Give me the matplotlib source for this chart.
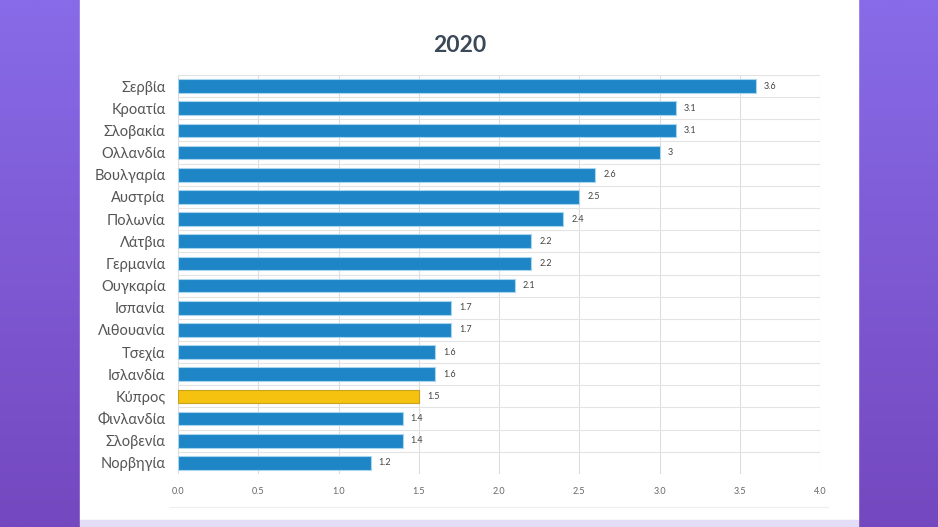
import numpy as np
import matplotlib.pyplot as plt
from matplotlib.patches import Rectangle

plt.rcParams['font.family'] = ['Lato', 'Noto Sans', 'DejaVu Sans']

# Data
countries = ['Σερβία', 'Κροατία', 'Σλοβακία', 'Ολλανδία', 'Βουλγαρία', 'Αυστρία',
             'Πολωνία', 'Λάτβια', 'Γερμανία', 'Ουγκαρία', 'Ισπανία', 'Λιθουανία',
             'Τσεχία', 'Ισλανδία', 'Κύπρος', 'Φινλανδία', 'Σλοβενία', 'Νορβηγία']
values = [3.6, 3.1, 3.1, 3.0, 2.6, 2.5, 2.4, 2.2, 2.2, 2.1, 1.7, 1.7, 1.6, 1.6, 1.5, 1.4, 1.4, 1.2]
value_labels = ['3.6', '3.1', '3.1', '3', '2.6', '2.5', '2.4', '2.2', '2.2', '2.1',
                '1.7', '1.7', '1.6', '1.6', '1.5', '1.4', '1.4', '1.2']
highlight = 'Κύπρος'
xticks = [0.0, 0.5, 1.0, 1.5, 2.0, 2.5, 3.0, 3.5, 4.0]

W, H = 938, 527
fig = plt.figure(figsize=(W / 100, H / 100), dpi=100)

# purple gradient background
bg = fig.add_axes([0, 0, 1, 1])
top = np.array([0x88, 0x6b, 0xe8]) / 255
bot = np.array([0x74, 0x48, 0xbf]) / 255
t = np.linspace(0, 1, 256)[:, None]
grad = (top * (1 - t) + bot * t)[:, None, :]
bg.imshow(grad, aspect='auto', extent=[0, W, H, 0])
bg.add_patch(Rectangle((80, 0), 778, 520, color='white'))
bg.add_patch(Rectangle((80, 520), 778, 7, color='#e4ddf7'))
bg.plot([170, 828], [507, 507], color='#eeeeee', lw=0.8)
bg.set_xlim(0, W)
bg.set_ylim(H, 0)
bg.axis('off')

ax = fig.add_axes([178 / W, 1 - 474 / H, (820 - 178) / W, (474 - 75) / H])
ax.set_facecolor('none')
y = np.arange(len(countries))
colors = ['#f5c20f' if c == highlight else '#1e86c6' for c in countries]
edges = ['#c9a020' if c == highlight else '#a8d4ee' for c in countries]
ax.barh(y, values, height=0.62, color=colors, edgecolor=edges, linewidth=0.8, zorder=3)

for yi, v, lab in zip(y, values, value_labels):
    ax.text(v + 0.05, yi, lab, va='center', ha='left', fontsize=6.5, color='#444444')

ax.set_xlim(0, 4.0)
ax.set_ylim(len(countries) - 0.5, -0.5)
ax.set_yticks(y)
ax.set_yticklabels(countries, fontsize=10.5, color='#555555')
ax.set_xticks(xticks)
ax.set_xticklabels([f'{x:.1f}' for x in xticks], fontsize=6.5, color='#666666')
ax.tick_params(length=0)
ax.tick_params(axis='x', pad=9)
ax.tick_params(axis='y', pad=9)

# grid: vertical at ticks, horizontal at category boundaries
for x in xticks:
    ax.axvline(x, color='#dddddd', lw=0.8, zorder=1)
for b in np.arange(-0.5, len(countries), 1.0):
    ax.axhline(b, color='#e3e3e3', lw=0.8, zorder=1)
for s in ax.spines.values():
    s.set_visible(False)

fig.text(460 / W, 1 - 46 / H, '2020', ha='center', va='center',
         fontsize=16.5, fontweight='bold', color='#3b4858')

fig.savefig('out.png', dpi=100)
